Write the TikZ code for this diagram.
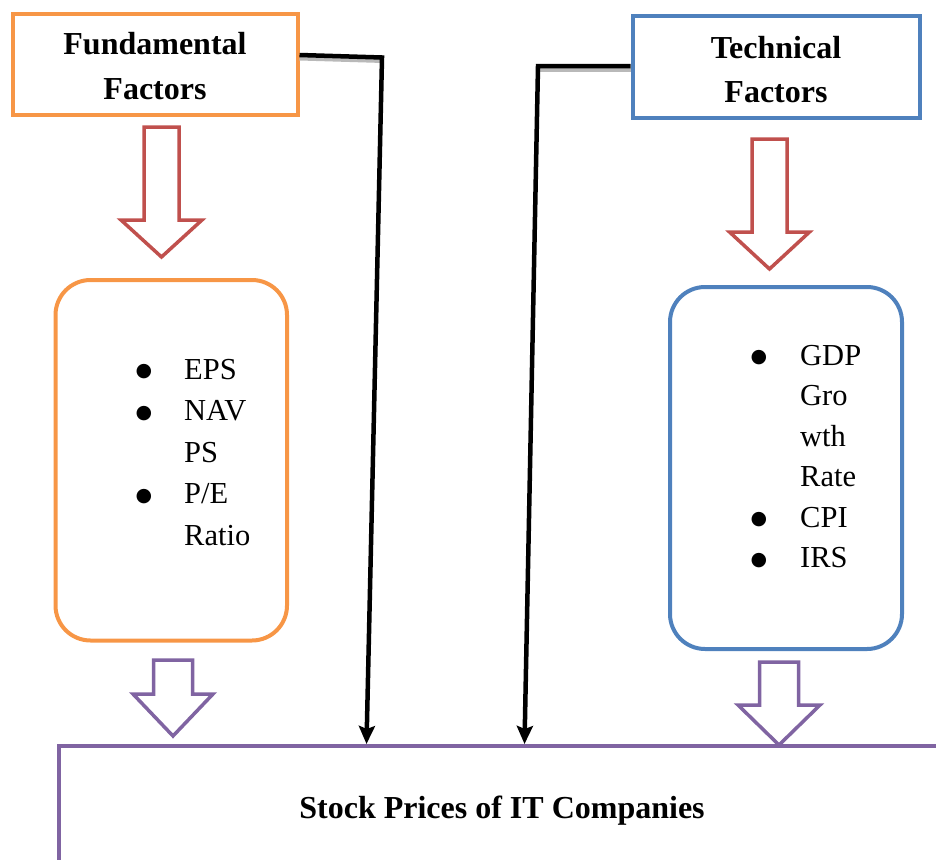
\documentclass[tikz,border=0pt]{standalone}
\usepackage{fontspec}
\setmainfont{Liberation Serif}
\newfontfamily\bulfont{DejaVu Sans}
\usetikzlibrary{arrows.meta}
\definecolor{forange}{HTML}{F79646}
\definecolor{fblue}{HTML}{4F81BD}
\definecolor{fred}{HTML}{C0504D}
\definecolor{fpurple}{HTML}{8064A2}
\newcommand\myblockarrow[7]{% color, cx, top, shaft half, shoulder y, head half, tip y
  \draw[#1, line width=3.5pt, line join=miter, fill=white]
    (#2-#4,#3) -- (#2+#4,#3) -- (#2+#4,#5) -- (#2+#6,#5) -- (#2,#7)
    -- (#2-#6,#5) -- (#2-#4,#5) -- cycle;}
\newcommand\mybul{\raisebox{2.5pt}{\bulfont\fontsize{19}{22}\selectfont ●}}
\begin{document}
\begin{tikzpicture}[x=1pt,y=-1pt,
  titlebox/.style={draw, line width=4pt, minimum width=285pt, minimum height=100pt, inner sep=0pt},
  listbox/.style={draw, line width=4pt, rounded corners=35pt, inner sep=0pt},
  titletext/.style={font=\fontsize{32}{43}\selectfont\bfseries, anchor=base, inner sep=0pt},
  itemtext/.style={font=\fontsize{30.5}{41}\selectfont, anchor=base west, inner sep=0pt},
  bullettext/.style={anchor=base, inner sep=0pt},
  conn/.style={line width=4.5pt, black},
  connshadow/.style={line width=4pt, gray!55},
]
\useasboundingbox (0,0) rectangle (936,859);

% title boxes
\node[titlebox, draw=forange] (fund) at (155,64.5) {};
\node[titletext] (fundA) at (155,55) {Fundamental};
\node[titletext] (fundB) at (155,99) {Factors};
\node[titlebox, draw=fblue, minimum width=287pt, minimum height=101pt] (tech) at (776,67) {};
\node[titletext] (techA) at (776,59) {Technical};
\node[titletext] (techB) at (776,102) {Factors};

% list boxes
\node[listbox, draw=forange, minimum width=231.5pt, minimum height=360.5pt] (fundlist) at (171.25,460.25) {};
\node[listbox, draw=fblue, minimum width=232pt, minimum height=362pt] (techlist) at (786,468) {};

% left list
\node[bullettext] (lb1) at (144,379) {\mybul};
\node[itemtext] (l1) at (184,379) {EPS};
\node[bullettext] (lb2) at (144,420.5) {\mybul};
\node[itemtext] (l2) at (184,420.5) {NAV};
\node[itemtext] (l3) at (184,462) {PS};
\node[bullettext] (lb3) at (144,503.5) {\mybul};
\node[itemtext] (l4) at (184,503.5) {P/E};
\node[itemtext] (l5) at (184,545) {Ratio};

% right list
\node[bullettext] (rb1) at (759,365) {\mybul};
\node[itemtext] (r1) at (800,365) {GDP};
\node[itemtext] (r2) at (800,405.5) {Gro};
\node[itemtext] (r3) at (800,446) {wth};
\node[itemtext] (r4) at (800,486.5) {Rate};
\node[bullettext] (rb2) at (759,527) {\mybul};
\node[itemtext] (r5) at (800,527) {CPI};
\node[bullettext] (rb3) at (759,567.5) {\mybul};
\node[itemtext] (r6) at (800,567.5) {IRS};

% block arrows
\myblockarrow{fred}{161.5}{127}{17.5}{220}{40.5}{257}
\myblockarrow{fred}{769.5}{139}{17.5}{232}{40}{269}
\myblockarrow{fpurple}{173}{660}{19.5}{694}{40}{736}
\myblockarrow{fpurple}{779}{662}{19.5}{705}{41}{745}

% bottom box
\draw[fpurple, line width=4pt] (59,870) -- (59,746) -- (945,746);
\node[titletext] (stock) at (502,818) {Stock Prices of IT Companies};

% connectors
\coordinate (lstart) at ([yshift=9.5pt]fund.east);
\coordinate (lbend) at (382,57.5);
\coordinate (lend) at (366.5,744);
\coordinate (rstart) at ([yshift=1pt]tech.west);
\coordinate (rbend) at (538,66);
\coordinate (rend) at (524.5,744);
\draw[connshadow] ([shift={(0,3.5)}]lstart) -- ([shift={(1,3.5)}]lbend);
\draw[connshadow] ([shift={(0,3.5)}]rstart) -- ([shift={(1,3.5)}]rbend);
\draw[conn, -{Stealth[length=18pt,width=16pt,inset=3pt]}] (lstart) -- (lbend) -- (lend);
\draw[conn, -{Stealth[length=18pt,width=16pt,inset=3pt]}] (rstart) -- (rbend) -- (rend);
\end{tikzpicture}
\end{document}
